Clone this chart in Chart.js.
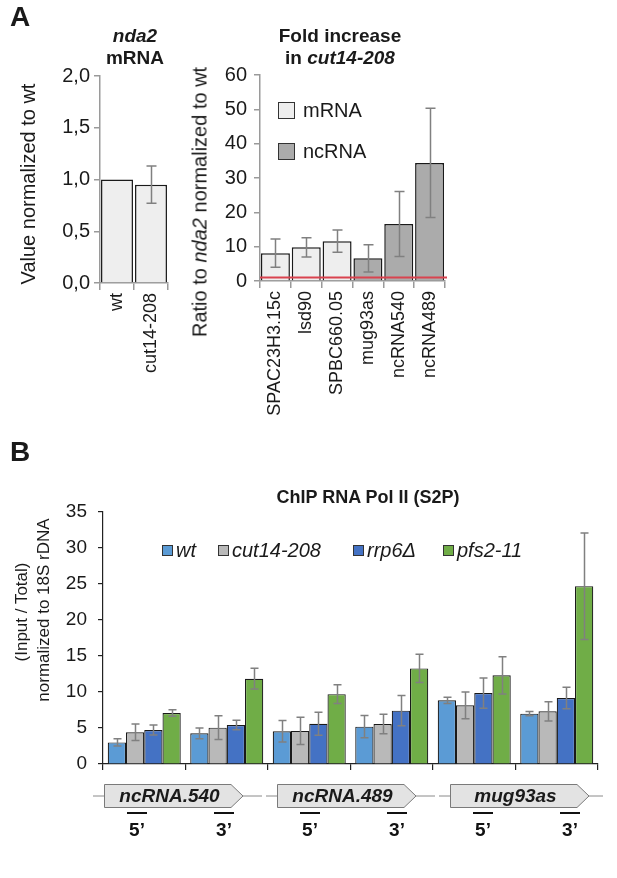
<!DOCTYPE html>
<html>
<head>
<meta charset="utf-8">
<script src="https://cdn.jsdelivr.net/npm/chart.js@4.4.1/dist/chart.umd.min.js"></script>
<style>
  body { margin: 0; background: #fff; font-family: "Liberation Sans", Arial, sans-serif; color: #1a1a1a; }
  #page { position: relative; width: 617px; height: 878px; overflow: hidden; }
  canvas { position: absolute; }
  .lbl { position: absolute; white-space: nowrap; transform: translate(-50%, -50%); }
  .rot { position: absolute; white-space: nowrap; transform: translate(-50%, -50%) rotate(-90deg); }
  .b { font-weight: bold; }
  .i { font-style: italic; }
  .box { position: absolute; box-sizing: border-box; }
</style>
</head>
<body>
<div id="page">
  <canvas id="ndaChart" width="215" height="390" style="left:0;top:0"></canvas>
  <canvas id="foldChart" width="290" height="440" style="left:175px;top:0"></canvas>
  <canvas id="chipChart" width="617" height="398" style="left:0;top:480px"></canvas>

  <div class="lbl b" style="left:20px;top:17px;font-size:28px">A</div>
  <div class="lbl b i" style="left:135px;top:36px;font-size:19px">nda2</div>
  <div class="lbl b" style="left:135px;top:58px;font-size:19px">mRNA</div>
  <div class="lbl b" style="left:340px;top:36px;font-size:19px">Fold increase</div>
  <div class="lbl b" style="left:340px;top:58px;font-size:19px">in <span class="i">cut14-208</span></div>
  <div class="rot" style="left:28px;top:184px;font-size:20px">Value normalized to wt</div>
  <div class="rot" style="left:200px;top:202px;font-size:20px">Ratio to <span class="i">nda2</span> normalized to wt</div>
  <div id="foldLegend"></div>

  <div class="lbl b" style="left:20px;top:452px;font-size:28px">B</div>
  <div class="lbl b" style="left:368px;top:497px;font-size:18px">ChIP RNA Pol II (S2P)</div>
  <div class="rot" style="left:22px;top:612px;font-size:17px">(Input / Total)</div>
  <div class="rot" style="left:44px;top:610px;font-size:17px">normalized to 18S rDNA</div>
  <div id="chipLegend"></div>
</div>

<script>
// ---------- 数据 ----------
// A 左: nda2 mRNA
const ndaLabels = ['wt', 'cut14-208'];
const ndaValues = [1.0, 0.95];
const ndaErrors = [null, 0.18];
const ndaTicks = ['0,0', '0,5', '1,0', '1,5', '2,0'];

// A 右: fold increase in cut14-208
const foldLabels = ['SPAC23H3.15c', 'lsd90', 'SPBC660.05', 'mug93as', 'ncRNA540', 'ncRNA489'];
const foldTypes = ['mRNA', 'mRNA', 'mRNA', 'ncRNA', 'ncRNA', 'ncRNA'];
const foldValues = [8.1, 9.8, 11.6, 6.6, 16.6, 34.4];
const foldErrors = [4.1, 2.8, 3.25, 3.95, 9.5, 15.9];
const foldTicks = ['0', '10', '20', '30', '40', '50', '60'];
const foldRef = 1;

// B: ChIP RNA Pol II (S2P)
const chipLabels = ["ncRNA.540 5’", "ncRNA.540 3’", "ncRNA.489 5’", "ncRNA.489 3’", "mug93as 5’", "mug93as 3’"];
const geneNames = ['ncRNA.540', 'ncRNA.489', 'mug93as'];
const strainNames = ['wt', 'cut14-208', 'rrp6Δ', 'pfs2-11'];
const wtValues    = [3.0, 4.26, 4.54, 5.19, 8.84, 6.99];
const wtErrors    = [0.5, 0.75, 1.5, 1.55, 0.43, 0.3];
const cut14Values = [4.4, 5.05, 4.6, 5.56, 8.15, 7.31];
const cut14Errors = [1.15, 1.65, 1.9, 1.35, 1.85, 1.35];
const rrp6Values  = [4.72, 5.42, 5.6, 7.41, 9.86, 9.17];
const rrp6Errors  = [0.7, 0.67, 1.6, 2.1, 2.1, 1.5];
const pfs2Values  = [7.08, 11.85, 9.7, 13.28, 12.31, 24.7];
const pfs2Errors  = [0.44, 1.45, 1.3, 1.95, 2.6, 7.4];
const chipTicks = ['0', '5', '10', '15', '20', '25', '30', '35'];

// ---------- 样式 ----------
const FONT = "'Liberation Sans', Arial, sans-serif";
const TEXT = '#1a1a1a';
const typeColors = { mRNA: '#eeeeee', ncRNA: '#ababab' };
const strainColors = ['#5b9bd5', '#b9b9b9', '#4472c4', '#70ad47'];

Chart.defaults.font.family = FONT;
Chart.defaults.color = TEXT;
Chart.defaults.animation = false;
Chart.defaults.plugins.legend.display = false;
Chart.defaults.plugins.tooltip.enabled = false;

// 误差线
const errorBars = {
  id: 'errorBars',
  afterDatasetsDraw(chart, args, opts) {
    const ctx = chart.ctx, y = chart.scales.y;
    ctx.save();
    ctx.strokeStyle = opts.color || '#808080';
    ctx.lineWidth = opts.width || 1.5;
    chart.data.datasets.forEach((ds, i) => {
      if (!ds.errors) return;
      chart.getDatasetMeta(i).data.forEach((bar, j) => {
        const v = ds.data[j], e = ds.errors[j];
        if (v == null || !e) return;
        const top = y.getPixelForValue(v + e);
        const bot = y.getPixelForValue(Math.max(v - e, 0));
        const x = Math.round(bar.x) + 0.5, c = (opts.cap || 10) / 2;
        ctx.beginPath();
        ctx.moveTo(x, top); ctx.lineTo(x, bot);
        ctx.moveTo(x - c, top); ctx.lineTo(x + c, top);
        ctx.moveTo(x - c, bot); ctx.lineTo(x + c, bot);
        ctx.stroke();
      });
    });
    ctx.restore();
  }
};

// 红色参考线 (nda2 = 1)
const refLine = {
  id: 'refLine',
  afterDatasetsDraw(chart, args, opts) {
    const a = chart.chartArea, y = chart.scales.y.getPixelForValue(opts.value);
    const ctx = chart.ctx;
    ctx.save();
    ctx.strokeStyle = '#d9434f';
    ctx.lineWidth = 2;
    ctx.beginPath();
    ctx.moveTo(a.left, y); ctx.lineTo(a.right + 2, y);
    ctx.stroke();
    ctx.restore();
  }
};

// 基因示意图 (B 下方)
const geneMap = {
  id: 'geneMap',
  afterDraw(chart) {
    const ctx = chart.ctx, a = chart.chartArea, base = a.bottom;
    ctx.save();
    geneNames.forEach((name, g) => {
      const x0 = a.left + 1 + g * 173, x1 = x0 + 139;
      const yT = base + 20, yB = base + 43, yM = (yT + yB) / 2;
      ctx.strokeStyle = '#8a8a8a';
      ctx.lineWidth = 1;
      ctx.beginPath();
      ctx.moveTo(x0 - 11, yM + 0.5);
      ctx.lineTo(Math.min(x1 + 19, chart.width - 14), yM + 0.5);
      ctx.stroke();

      ctx.beginPath();
      ctx.moveTo(x0 + 0.5, yT + 0.5);
      ctx.lineTo(x1 - 12, yT + 0.5);
      ctx.lineTo(x1, yM + 0.5);
      ctx.lineTo(x1 - 12, yB + 0.5);
      ctx.lineTo(x0 + 0.5, yB + 0.5);
      ctx.closePath();
      ctx.fillStyle = '#e3e3e3';
      ctx.fill();
      ctx.strokeStyle = '#7a7a7a';
      ctx.stroke();

      ctx.fillStyle = TEXT;
      ctx.textAlign = 'center';
      ctx.textBaseline = 'middle';
      ctx.font = 'italic bold 19px ' + FONT;
      ctx.fillText(name, (x0 + x1 - 12) / 2 + 2, yM + 1);

      [[33, '5’'], [120, '3’']].forEach(([dx, t]) => {
        ctx.fillStyle = '#111';
        ctx.fillRect(x0 + dx - 10, base + 48, 20, 2);
        ctx.font = 'bold 19px ' + FONT;
        ctx.fillText(t, x0 + dx, base + 67);
      });
    });
    ctx.restore();
  }
};

// ---------- A 左 ----------
new Chart(document.getElementById('ndaChart'), {
  type: 'bar',
  data: {
    labels: ndaLabels,
    datasets: [{
      data: ndaValues,
      errors: ndaErrors,
      backgroundColor: typeColors.mRNA,
      borderColor: '#1a1a1a',
      borderWidth: 1.5,
      barPercentage: 0.94,
      categoryPercentage: 1.0
    }]
  },
  options: {
    responsive: false,
    layout: { padding: { top: 76, right: 47, left: 0, bottom: 0 } },
    plugins: { errorBars: { cap: 10, color: '#808080', width: 1.5 } },
    scales: {
      y: {
        min: 0, max: 2,
        ticks: { stepSize: 0.5, callback: (v, i) => ndaTicks[i], font: { size: 20 }, padding: 4 },
        grid: { drawOnChartArea: false, tickLength: 6, color: '#9a9a9a', lineWidth: 1.5 },
        border: { color: '#9a9a9a', width: 1.5 },
        afterFit: s => { s.width = 100; }
      },
      x: {
        ticks: { minRotation: 90, maxRotation: 90, autoSkip: false, font: { size: 18 }, padding: 3 },
        grid: { drawOnChartArea: false, tickLength: 7, color: '#9a9a9a', lineWidth: 1.5 },
        border: { color: '#9a9a9a', width: 1.5 },
        afterFit: s => { s.height = 107; }
      }
    }
  },
  plugins: [errorBars]
});

// ---------- A 右 ----------
new Chart(document.getElementById('foldChart'), {
  type: 'bar',
  data: {
    labels: foldLabels,
    datasets: [{
      data: foldValues,
      errors: foldErrors,
      backgroundColor: foldTypes.map(t => typeColors[t]),
      borderColor: '#1a1a1a',
      borderWidth: 1.5,
      barPercentage: 0.94,
      categoryPercentage: 1.0
    }]
  },
  options: {
    responsive: false,
    layout: { padding: { top: 75, right: 20, left: 0, bottom: 0 } },
    plugins: {
      errorBars: { cap: 10, color: '#808080', width: 1.5 },
      refLine: { value: foldRef }
    },
    scales: {
      y: {
        min: 0, max: 60,
        ticks: { stepSize: 10, callback: (v, i) => foldTicks[i], font: { size: 20 }, padding: 7 },
        grid: { drawOnChartArea: false, tickLength: 6, color: '#9a9a9a', lineWidth: 1.5 },
        border: { color: '#9a9a9a', width: 1.5 },
        afterFit: s => { s.width = 85; }
      },
      x: {
        ticks: { minRotation: 90, maxRotation: 90, autoSkip: false, font: { size: 18 }, padding: 3 },
        grid: { drawOnChartArea: false, tickLength: 7, color: '#9a9a9a', lineWidth: 1.5 },
        border: { color: '#9a9a9a', width: 1.5 },
        afterFit: s => { s.height = 159; }
      }
    }
  },
  plugins: [errorBars, refLine]
});

// A 右图例
const foldLegend = document.getElementById('foldLegend');
['mRNA', 'ncRNA'].forEach((t, i) => {
  const cy = 110 + i * 41;
  foldLegend.innerHTML +=
    `<div class="box" style="left:278px;top:${cy - 8}px;width:17px;height:17px;background:${typeColors[t]};border:1.5px solid #333"></div>` +
    `<div class="lbl" style="left:303px;top:${cy}px;font-size:20px;transform:translate(0,-50%)">${t}</div>`;
});

// ---------- B ----------
const chipSeries = [
  [wtValues, wtErrors], [cut14Values, cut14Errors], [rrp6Values, rrp6Errors], [pfs2Values, pfs2Errors]
];
new Chart(document.getElementById('chipChart'), {
  type: 'bar',
  data: {
    labels: chipLabels,
    datasets: chipSeries.map(([vals, errs], i) => ({
      label: strainNames[i],
      data: vals,
      errors: errs,
      backgroundColor: strainColors[i],
      borderColor: '#1a1a1a',
      borderWidth: 1.2,
      barPercentage: 1.0,
      categoryPercentage: 0.885
    }))
  },
  options: {
    responsive: false,
    layout: { padding: { top: 32, right: 19, left: 0, bottom: 104 } },
    plugins: { errorBars: { cap: 8, color: '#808080', width: 1.5 } },
    scales: {
      y: {
        min: 0, max: 35,
        ticks: { stepSize: 5, callback: (v, i) => chipTicks[i], font: { size: 19 }, padding: 11 },
        grid: { drawOnChartArea: false, tickLength: 5, color: '#222', lineWidth: 1.2 },
        border: { color: '#222', width: 1.2 },
        afterFit: s => { s.width = 103; }
      },
      x: {
        ticks: { callback: () => '', padding: 0 },
        grid: { drawOnChartArea: false, tickLength: 6, color: '#222', lineWidth: 1.2 },
        border: { color: '#222', width: 1.2 },
        afterFit: s => { s.height = 10; }
      }
    }
  },
  plugins: [errorBars, geneMap]
});

// B 图例
const chipLegend = document.getElementById('chipLegend');
const legendX = [162, 218, 353, 443];
strainNames.forEach((n, i) => {
  chipLegend.innerHTML +=
    `<div class="box" style="left:${legendX[i]}px;top:545px;width:11px;height:11px;background:${strainColors[i]};border:1px solid #333"></div>` +
    `<div class="lbl i" style="left:${legendX[i] + 14}px;top:550px;font-size:20px;transform:translate(0,-50%)">${n}</div>`;
});
</script>
</body>
</html>
